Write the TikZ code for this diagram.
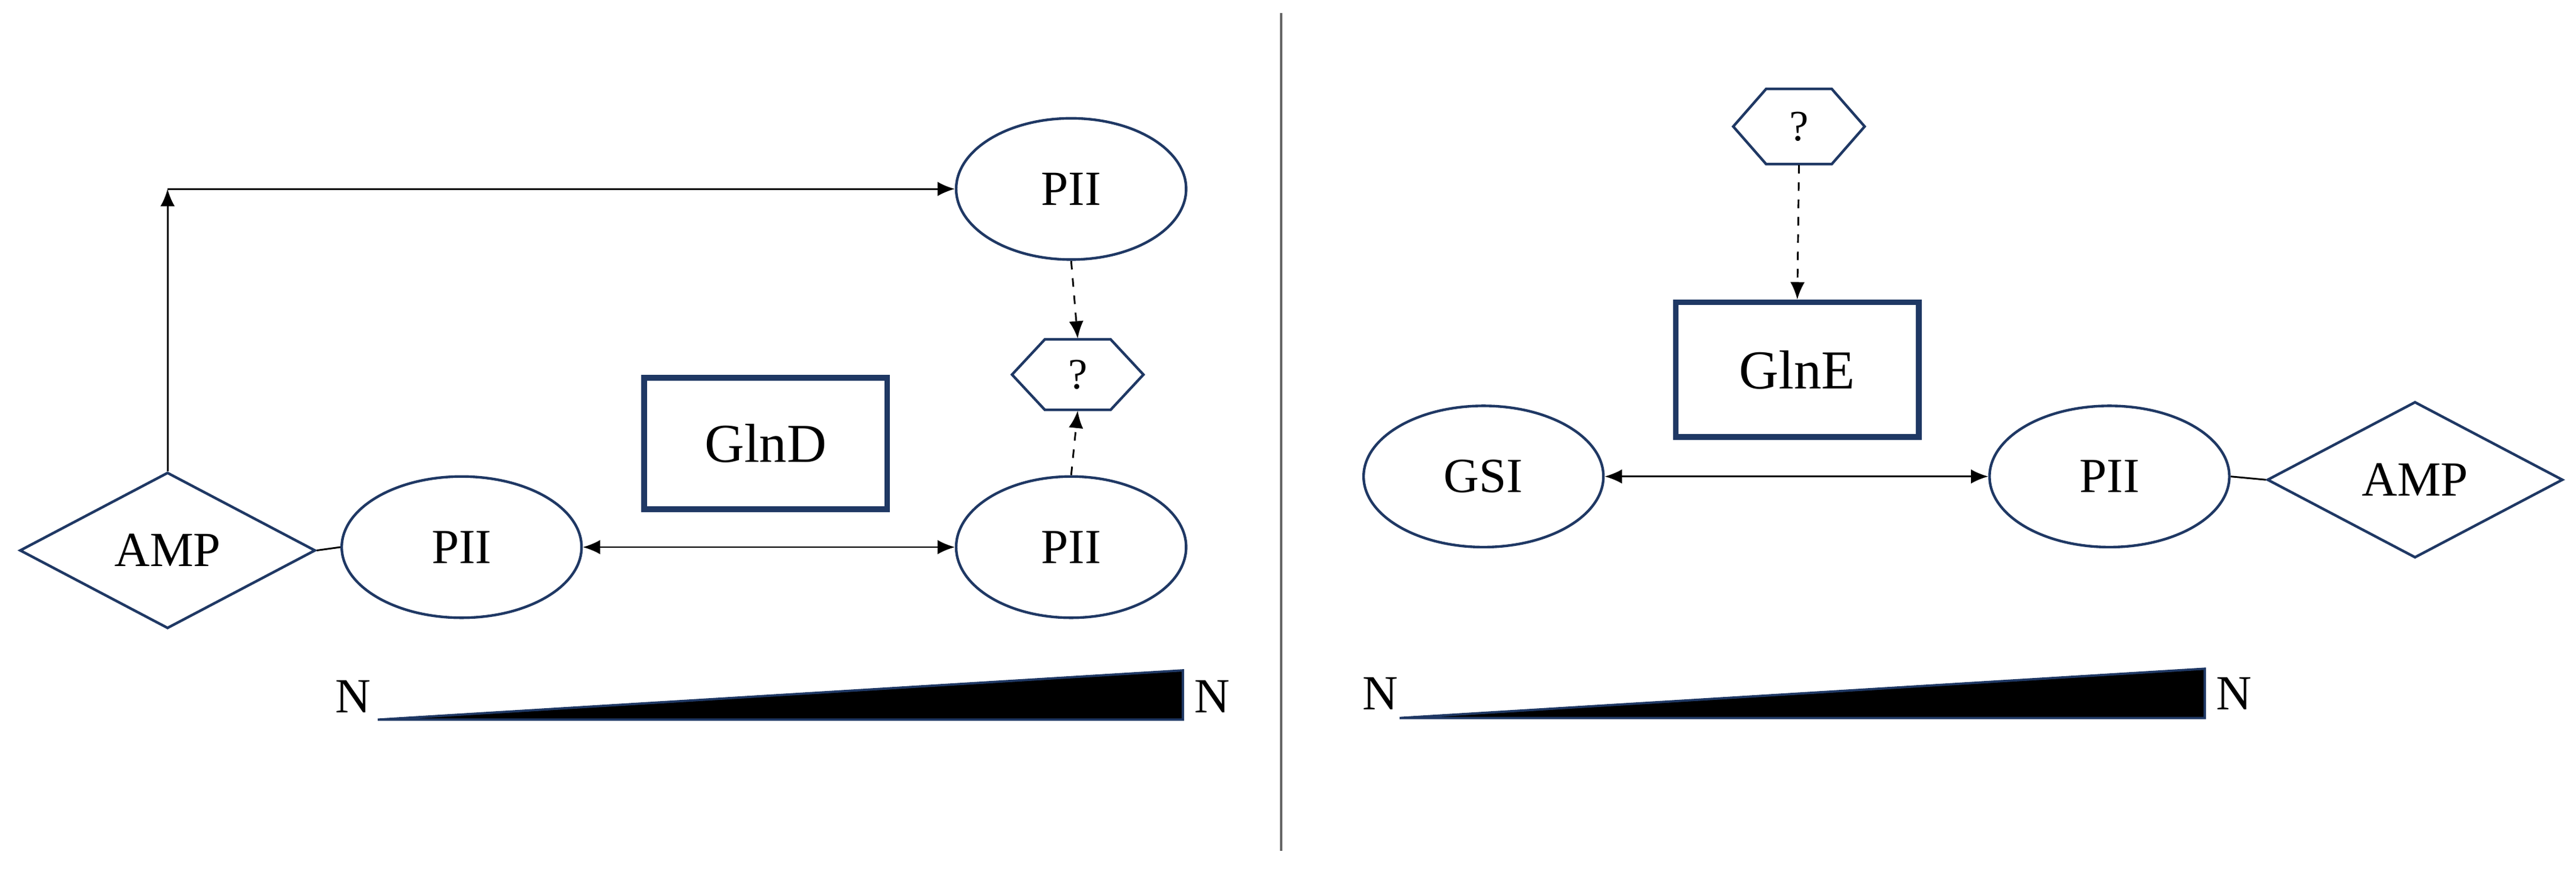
\documentclass[tikz,border=0pt]{standalone}
\usepackage{fontspec}
\setmainfont{Liberation Serif}
\usetikzlibrary{shapes.geometric,arrows.meta}
\definecolor{navy}{HTML}{1F3864}
\begin{document}
\begin{tikzpicture}[x=0.02cm,y=-0.02cm,
 every node/.style={font=\fontsize{17}{20}\selectfont},
 ell/.style={draw=navy,line width=0.9pt,ellipse,minimum width=146\pgflinewidth*0+2.92cm,minimum height=1.72cm,inner sep=0pt},
 dia/.style={draw=navy,line width=0.9pt,diamond,minimum width=3.6cm,minimum height=1.9cm,inner sep=0pt,aspect=1.9},
 hex/.style={draw=navy,line width=0.9pt,regular polygon,regular polygon sides=6,minimum width=1.6cm,inner sep=0pt,yscale=0.62,font=\fontsize{15}{18}\selectfont},
 box/.style={draw=navy,line width=2pt,minimum width=2.96cm,minimum height=1.6cm,inner sep=0pt},
 con/.style={line width=0.6pt},
 arr/.style={con,-{Latex[length=6pt,width=5pt]}},
 darr/.style={con,{Latex[length=6pt,width=5pt]}-{Latex[length=6pt,width=5pt]}},
 dsh/.style={arr,dashed},
 wedge/.style={draw=navy,fill=black,line width=0.8pt}]
\useasboundingbox (0,0) rectangle (1568,530);
\draw[gray!80!black,line width=0.8pt] (780,8) -- (780,518);
% left
\node[dia] (amp1) at (102,335) {AMP};
\node[ell] (pii1) at (281,333) {PII};
\node[box] (glnd) at (466,270) {\fontsize{19}{22}\selectfont GlnD};
\node[ell,minimum width=2.8cm] (pii2) at (652,333) {PII};
\node[ell,minimum width=2.8cm] (pii3) at (652,115) {PII};
\node[draw=navy,line width=0.9pt,regular polygon,regular polygon sides=6,shape border rotate=0,minimum size=1.6cm,inner sep=0pt,yscale=0.62] (q1) at (656,228) {};
\node at (q1) {\fontsize{15}{18}\selectfont ?};
\coordinate (c1) at (102,115);
\draw[arr] (amp1.north) -- (c1);
\draw[arr] (c1) -- (pii3.west);
\draw[con] (amp1.east) -- (pii1.west);
\draw[darr] (pii1.east) -- (pii2.west);
\draw[dsh] (pii3.south) -- (q1.north);
\draw[dsh] (pii2.north) -- (q1.south);
\draw[wedge] (230,438) -- (720,408) -- (720,438) -- cycle;
\node (n1) at (215,424) {N};
\node (n2) at (738,424) {N};
% right
\node[draw=navy,line width=0.9pt,regular polygon,regular polygon sides=6,minimum size=1.6cm,inner sep=0pt,yscale=0.66] (q2) at (1095,77) {};
\node at (q2) {\fontsize{15}{18}\selectfont ?};
\node[box,minimum height=1.64cm] (glne) at (1094,225) {\fontsize{19}{22}\selectfont GlnE};
\node[ell] (gsi) at (903,290) {GSI};
\node[ell] (pii4) at (1284,290) {PII};
\node[dia] (amp2) at (1470,292) {AMP};
\draw[dsh] (q2.south) -- (glne.north);
\draw[darr] (gsi.east) -- (pii4.west);
\draw[con] (pii4.east) -- (amp2.west);
\draw[wedge] (852,437) -- (1342,407) -- (1342,437) -- cycle;
\node (n3) at (840,422) {N};
\node (n4) at (1360,422) {N};
\end{tikzpicture}
\end{document}
